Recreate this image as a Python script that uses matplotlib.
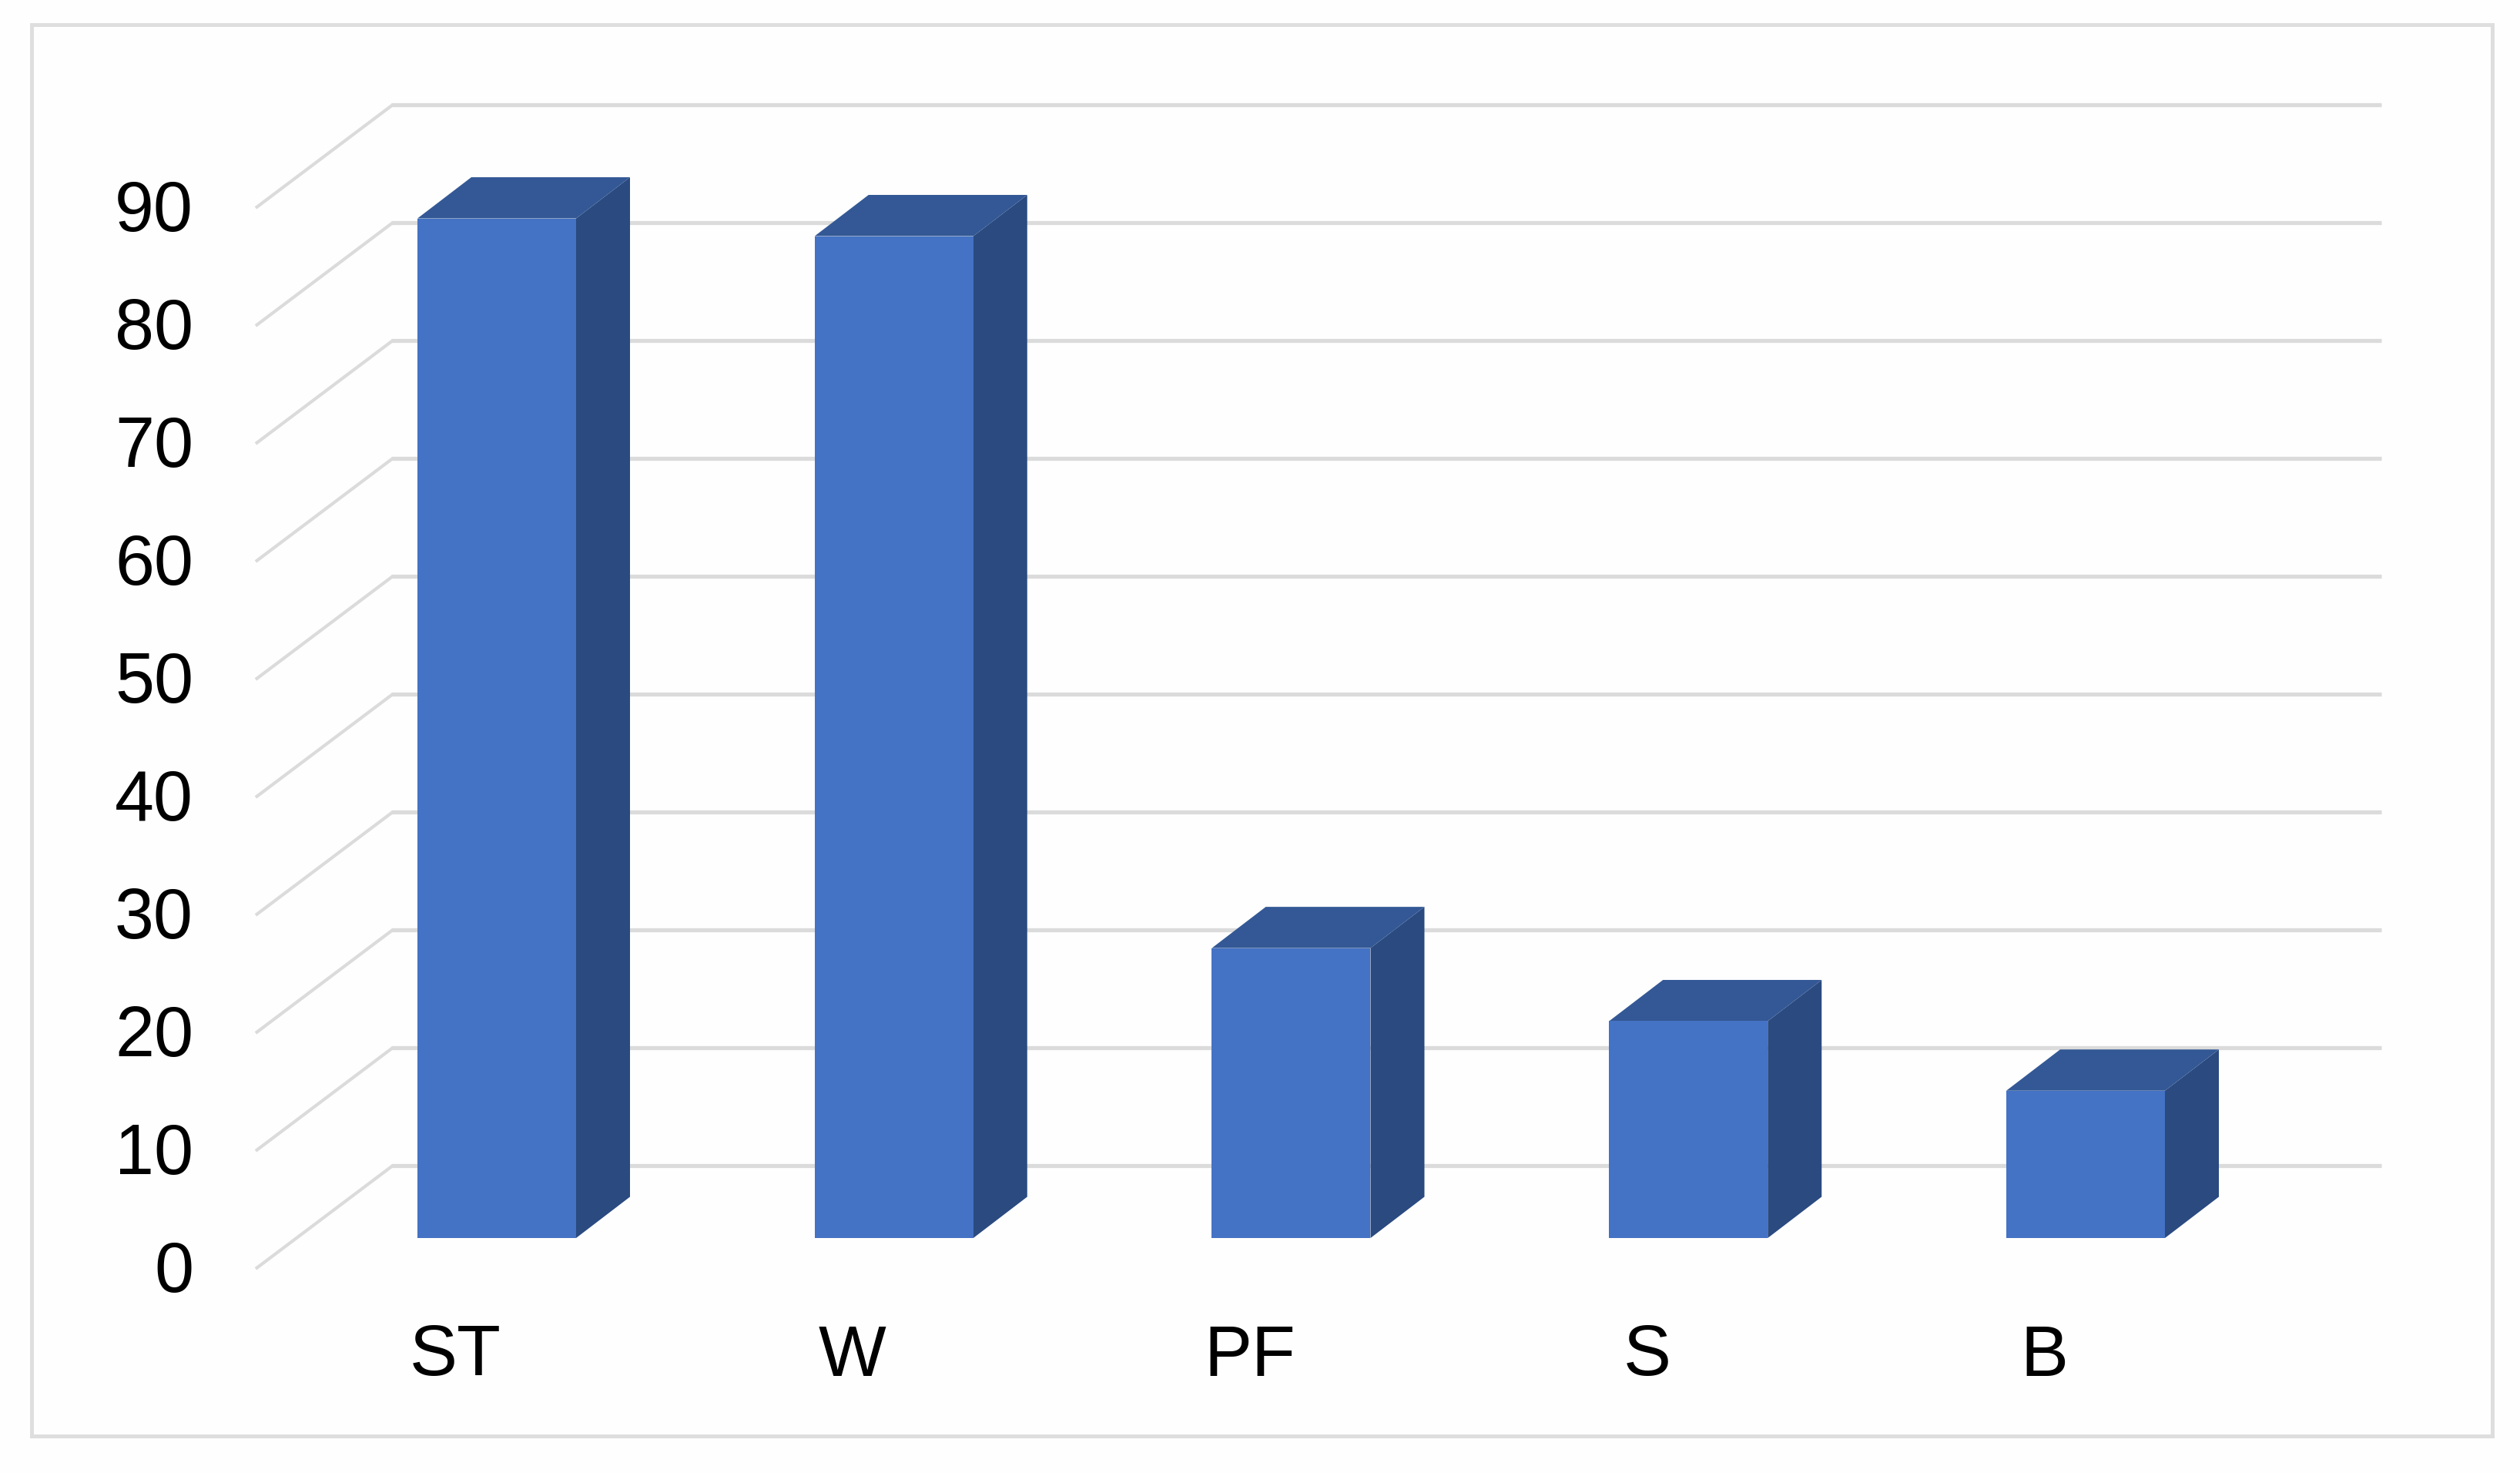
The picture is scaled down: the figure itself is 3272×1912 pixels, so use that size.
import numpy as np
import matplotlib
matplotlib.use("Agg")
import matplotlib.pyplot as plt
from matplotlib.patches import Rectangle

categories = ["ST", "W", "PF", "S", "B"]
values = [86.5, 85.0, 24.6, 18.4, 12.5]
grid_values = [0, 10, 20, 30, 40, 50, 60, 70, 80, 90]

W, H = 3273, 1912
px_x = 515.75          # pixels per category
px_y = 15.3            # pixels per value unit
x0_px, y0_px = 645, 1607   # where category 0, value 0 sits

plt.rcParams['font.family'] = ['Liberation Sans', 'DejaVu Sans']

fig = plt.figure(figsize=(W/100, H/100), dpi=100, facecolor="#FEFEFE")
ax = fig.add_axes([0, 0, 1, 1])
ax.set_xlim(-x0_px/px_x, (W-x0_px)/px_x)
ax.set_ylim(-(H-y0_px)/px_y, y0_px/px_y)
ax.axis("off")

# chart frame
ax.add_patch(Rectangle((41/W, 1-1864/H), (3236-41)/W, (1864-32)/H, transform=ax.transAxes,
                       fill=False, ec="#DEDEDE", lw=3.6))

# walls: gridline runs from the front edge to the back wall, then across
front_x, back_x, right_x = -0.607, -0.262, 4.745
front_dy, back_dy = -2.61, 6.14
text_dy = 3/px_y
for v in grid_values:
    ax.plot([front_x, back_x], [v+front_dy, v+back_dy], color="#DBDBDB", lw=3.0, solid_capstyle="butt", zorder=1)
    ax.plot([back_x-0.003, right_x], [v+back_dy, v+back_dy], color="#DBDBDB", lw=3.8, solid_capstyle="butt", zorder=1)
    ax.text((251-x0_px)/px_x, v+front_dy+text_dy, str(v), ha="right", va="center_baseline", fontsize=66, color="black")

# bars with fake depth
half = 103/px_x
dx, dy = 70/px_x, 53.5/px_y
for i, (name, val) in enumerate(zip(categories, values)):
    l, r = i-half, i+half
    ax.fill([r, r+dx, r+dx, r], [0, dy, val+dy, val], color="#2A4A80", lw=0, zorder=3)
    ax.fill([l, r, r+dx, l+dx], [val, val, val+dy, val+dy], color="#335895", lw=0, zorder=3)
    ax.fill([l, r, r, l], [0, 0, val, val], color="#4472C4", lw=0, zorder=4)
    ax.text(i-54/px_x, -(1755-y0_px)/px_y+text_dy, name, ha="center", va="center_baseline", fontsize=67, color="black")

fig.savefig("out.png", dpi=100, facecolor=fig.get_facecolor())
